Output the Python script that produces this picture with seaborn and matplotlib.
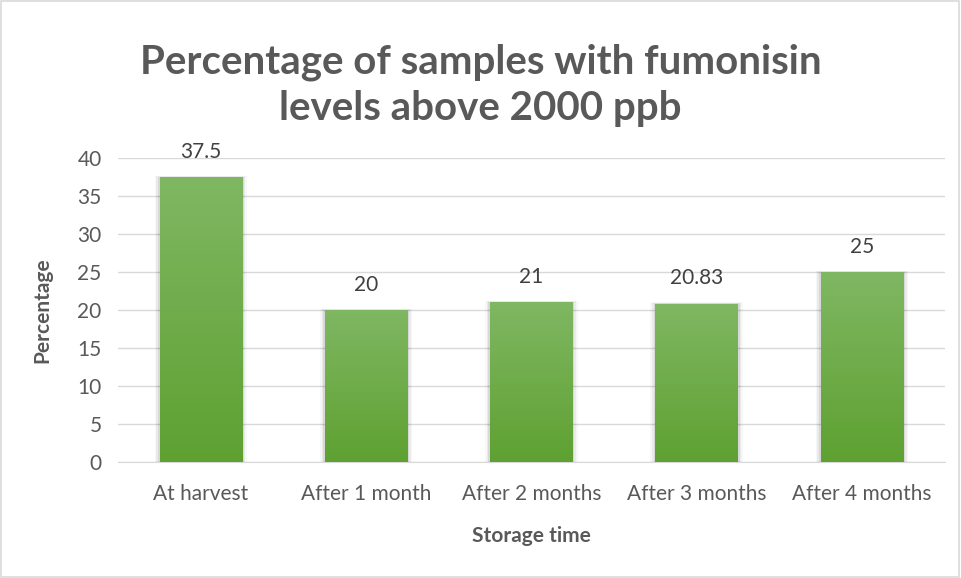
import numpy as np
import pandas as pd
import seaborn as sns
import matplotlib.pyplot as plt
from matplotlib.patches import Rectangle
from matplotlib.colors import LinearSegmentedColormap

categories = ["At harvest", "After 1 month", "After 2 months", "After 3 months", "After 4 months"]
percentages = [37.5, 20, 21, 20.83, 25]
value_labels = ["37.5", "20", "21", "20.83", "25"]

df = pd.DataFrame({"Storage time": categories, "Percentage": percentages})

sns.set_style("white")
plt.rcParams['font.family'] = ['Lato', 'DejaVu Sans']

fig = plt.figure(figsize=(9.61, 5.78), dpi=100)
ax = fig.add_axes([0.123, 0.2007, 0.860, 0.526])

sns.barplot(data=df, x="Storage time", y="Percentage", color="#70AD47",
            width=0.5, ax=ax, zorder=3, linewidth=0)

ax.grid(axis="y", color="#D9D9D9", linewidth=1, zorder=0)
for s in ["top", "right", "left"]:
    ax.spines[s].set_visible(False)
ax.spines["bottom"].set_color("#D9D9D9")
ax.spines["bottom"].set_zorder(1)

# vertical gradient + soft shadow on each bar
grad = np.linspace(0, 1, 256).reshape(-1, 1)
cmap = LinearSegmentedColormap.from_list("g", ["#5EA131", "#80B763"])
for bar in ax.patches[:len(categories)]:
    x0, y0 = bar.get_x(), bar.get_y()
    w, h = bar.get_width(), bar.get_height()
    for k, a in enumerate([0.08, 0.05, 0.03]):
        sh = Rectangle((x0 - 0.01 * (k + 1), y0), w + 0.02 * (k + 1), h + 0.06 * (k + 1),
                       facecolor="black", alpha=a, edgecolor="none", zorder=2)
        ax.add_patch(sh)
    im = ax.imshow(grad, extent=[x0, x0 + w, y0, y0 + h], origin="lower",
                   cmap=cmap, aspect="auto", zorder=4)
    im.set_clip_path(bar)
ax.set_aspect("auto")
ax.set_xlim(-0.5, len(categories) - 0.5)
ax.set_ylim(0, 40)
ax.set_yticks(range(0, 41, 5))

for i, (v, lab) in enumerate(zip(percentages, value_labels)):
    ax.text(i, v + 2.0, lab, ha="center", va="bottom", fontsize=15, color="#404040", zorder=5)

ax.tick_params(axis="both", length=0, labelsize=15, labelcolor="#595959")
ax.tick_params(axis="y", pad=12)
ax.tick_params(axis="x", pad=16)
ax.set_xlabel("Storage time", fontsize=15, fontweight="bold", color="#595959", labelpad=16)
ax.set_ylabel("Percentage", fontsize=15, fontweight="bold", color="#595959", labelpad=18)

fig.text(0.5, 0.852, "Percentage of samples with fumonisin\nlevels above 2000 ppb",
         ha="center", va="center", fontsize=29, fontweight="bold", color="#595959",
         linespacing=1.3)

fig.patches.append(Rectangle((0.001, 0.002), 0.997, 0.996, transform=fig.transFigure,
                             fill=False, edgecolor="#D9D9D9", linewidth=1.2))

fig.savefig("out.png", dpi=100)
